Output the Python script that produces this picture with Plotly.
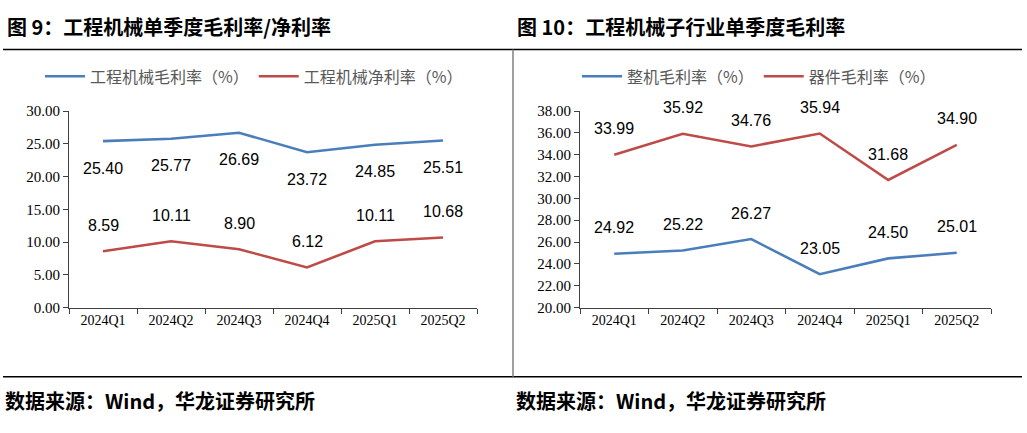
import plotly.graph_objects as go

quarters = ["2024Q1", "2024Q2", "2024Q3", "2024Q4", "2025Q1", "2025Q2"]
gross_margin = [25.40, 25.77, 26.69, 23.72, 24.85, 25.51]
net_margin = [8.59, 10.11, 8.90, 6.12, 10.11, 10.68]
machine_margin = [24.92, 25.22, 26.27, 23.05, 24.50, 25.01]
parts_margin = [33.99, 35.92, 34.76, 35.94, 31.68, 34.90]

left_ticks = [0, 5, 10, 15, 20, 25, 30]
right_ticks = [20, 22, 24, 26, 28, 30, 32, 34, 36, 38]

BLUE = "#4A7EBB"
RED = "#BE4B48"
W, H = 1027, 433

def px(x):
    return x / W

def py(y):
    return 1 - y / H

fig = go.Figure()
fig.add_trace(go.Scatter(x=quarters, y=gross_margin, mode="lines", name="工程机械毛利率（%）",
                         line=dict(color=BLUE, width=2.6), xaxis="x", yaxis="y", legend="legend"))
fig.add_trace(go.Scatter(x=quarters, y=net_margin, mode="lines", name="工程机械净利率（%）",
                         line=dict(color=RED, width=2.6), xaxis="x", yaxis="y", legend="legend"))
fig.add_trace(go.Scatter(x=quarters, y=machine_margin, mode="lines", name="整机毛利率（%）",
                         line=dict(color=BLUE, width=2.6), xaxis="x2", yaxis="y2", legend="legend2"))
fig.add_trace(go.Scatter(x=quarters, y=parts_margin, mode="lines", name="器件毛利率（%）",
                         line=dict(color=RED, width=2.6), xaxis="x2", yaxis="y2", legend="legend2"))

label_font = dict(family="Liberation Sans, Arial", size=16, color="#000000")
ann = []
def add_labels(xs, ys, xref, yref, shift):
    for x, y in zip(xs, ys):
        ann.append(dict(x=x, y=y, xref=xref, yref=yref, text=f"{y:.2f}", showarrow=False,
                        yshift=shift, font=label_font))

add_labels(quarters, gross_margin, "x", "y", -27)
add_labels(quarters, net_margin, "x", "y", 26)
add_labels(quarters, machine_margin, "x2", "y2", 26)
add_labels(quarters, parts_margin, "x2", "y2", 26)

title_font = dict(family="Noto Sans CJK SC", size=20, color="#000000")
ann.append(dict(x=px(5), y=py(19), xref="paper", yref="paper", xanchor="left", yanchor="middle",
                text="<b>图 9：工程机械单季度毛利率/净利率</b>", showarrow=False, font=title_font))
ann.append(dict(x=px(515), y=py(19), xref="paper", yref="paper", xanchor="left", yanchor="middle",
                text="<b>图 10：工程机械子行业单季度毛利率</b>", showarrow=False, font=title_font))
src_font = dict(family="Noto Sans CJK SC", size=20, color="#000000")
ann.append(dict(x=px(3), y=py(408), xref="paper", yref="paper", xanchor="left", yanchor="middle",
                text="<b>数据来源：Wind，华龙证券研究所</b>", showarrow=False, font=src_font))
ann.append(dict(x=px(514), y=py(408), xref="paper", yref="paper", xanchor="left", yanchor="middle",
                text="<b>数据来源：Wind，华龙证券研究所</b>", showarrow=False, font=src_font))

shapes = [
    dict(type="line", xref="paper", yref="paper", x0=px(3), x1=px(1022), y0=py(43), y1=py(43),
         line=dict(color="#000000", width=1.5)),
    dict(type="line", xref="paper", yref="paper", x0=px(3), x1=px(1022), y0=py(383), y1=py(383),
         line=dict(color="#000000", width=1.5)),
    dict(type="line", xref="paper", yref="paper", x0=px(513), x1=px(513), y0=py(43), y1=py(383),
         line=dict(color="#808080", width=1.5)),
]

axis_common = dict(showline=True, linecolor="#404040", linewidth=1, showgrid=False, zeroline=False,
                   ticks="outside", tickcolor="#404040", ticklen=5)

xcommon = dict(axis_common, type="category", tickson="boundaries", range=[-0.5, 5.5],
               categoryorder="array", categoryarray=quarters,
               tickfont=dict(family="Liberation Serif, Times New Roman", size=14, color="#000000"))
ytickfont = dict(family="Liberation Serif, Times New Roman", size=15, color="#000000")

ydom = [py(311), py(107)]
legend_font = dict(family="Noto Sans CJK SC", size=16, color="#595959")
fig.update_layout(
    width=W, height=H, margin=dict(l=0, r=0, t=0, b=0),
    paper_bgcolor="white", plot_bgcolor="white",
    xaxis=dict(xcommon, domain=[px(69), px(477)], anchor="y"),
    yaxis=dict(axis_common, domain=ydom, range=[0, 30], tickvals=left_ticks, tickformat=".2f",
               anchor="x", tickfont=ytickfont),
    xaxis2=dict(xcommon, domain=[px(580), px(991)], anchor="y2"),
    yaxis2=dict(axis_common, domain=ydom, range=[20, 38], tickvals=right_ticks, tickformat=".2f",
                anchor="x2", tickfont=ytickfont),
    legend=dict(orientation="h", x=px(40), y=py(71), xanchor="left", yanchor="middle",
                font=legend_font, itemwidth=40, tracegroupgap=0, bgcolor="rgba(0,0,0,0)"),
    legend2=dict(orientation="h", x=px(577), y=py(71), xanchor="left", yanchor="middle",
                 font=legend_font, itemwidth=40, tracegroupgap=0, bgcolor="rgba(0,0,0,0)"),
    annotations=ann, shapes=shapes, showlegend=True,
)

fig.write_html("out.html", config={"displayModeBar": False},
               post_script="document.body.style.margin='0';")
